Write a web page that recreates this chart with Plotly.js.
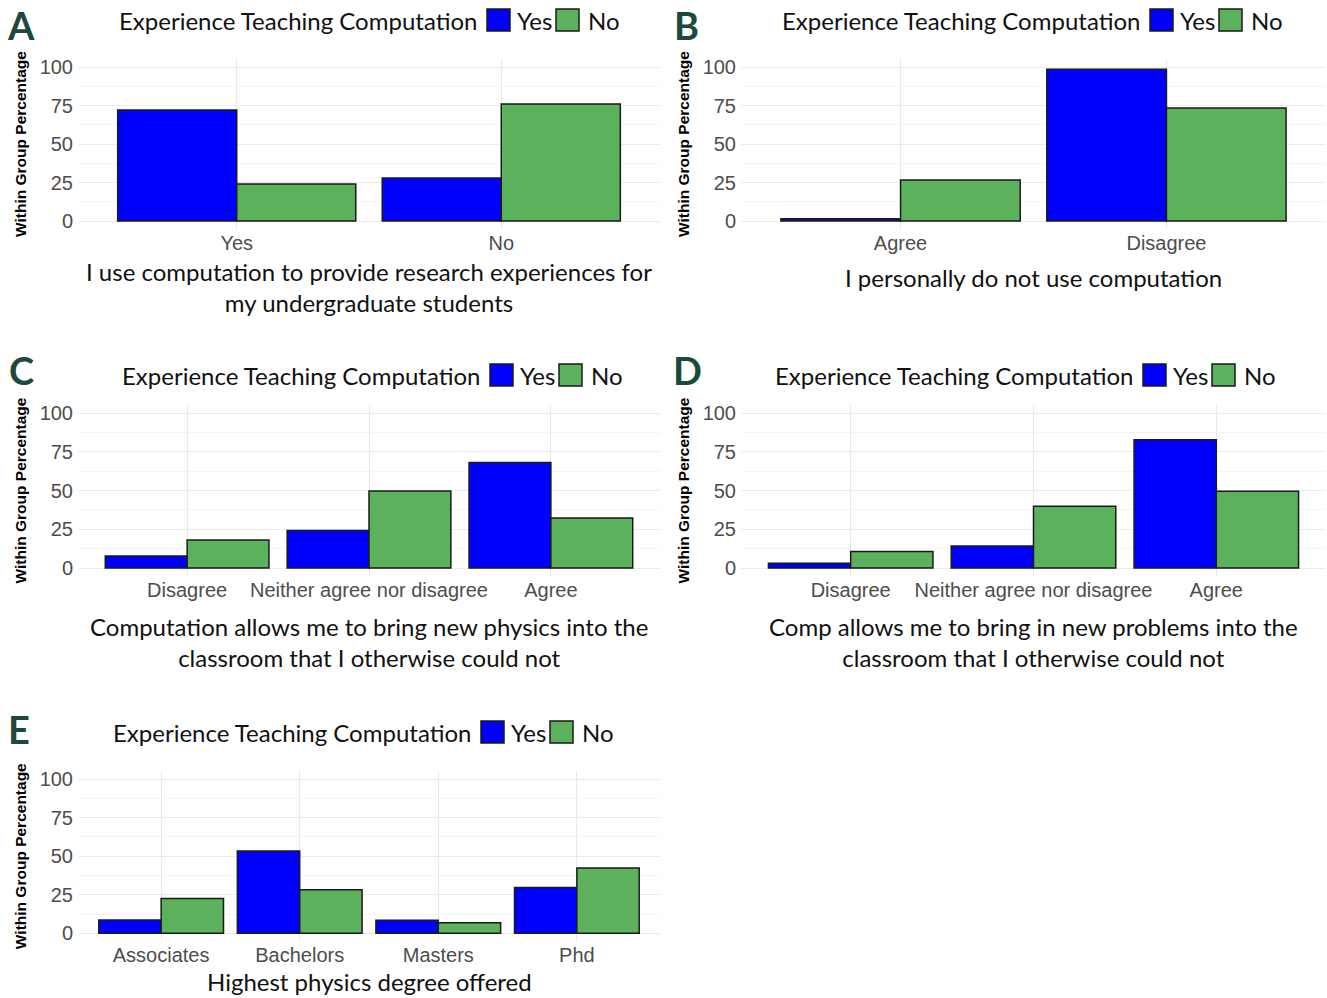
<!DOCTYPE html>
<html>
<head>
<meta charset="utf-8">
<script src="https://cdn.plot.ly/plotly-3.0.1.min.js"></script>
<style>html,body{margin:0;padding:0;background:#fff;}#chart{width:1327px;height:998px;}</style>
</head>
<body>
<div id="chart"></div>
<script>
// ---- Data ----
const legendTitle = 'Experience Teaching Computation';
const groupNames = ['Yes', 'No'];
const yTitle = 'Within Group Percentage';
const yTicks = [0, 25, 50, 75, 100];

const catsA = ['Yes', 'No'];
const yesA = [72, 28];
const noA = [24, 76];
const titleA = 'I use computation to provide research experiences for<br>my undergraduate students';

const catsB = ['Agree', 'Disagree'];
const yesB = [1.5, 98.5];
const noB = [26.6, 73.4];
const titleB = 'I personally do not use computation';

const catsC = ['Disagree', 'Neither agree nor disagree', 'Agree'];
const yesC = [7.7, 24.2, 68.1];
const noC = [18, 49.7, 32.3];
const titleC = 'Computation allows me to bring new physics into the<br>classroom that I otherwise could not';

const catsD = ['Disagree', 'Neither agree nor disagree', 'Agree'];
const yesD = [3, 14.2, 82.8];
const noD = [10.7, 39.8, 49.5];
const titleD = 'Comp allows me to bring in new problems into the<br>classroom that I otherwise could not';

const catsE = ['Associates', 'Bachelors', 'Masters', 'Phd'];
const yesE = [8.6, 53.3, 8.4, 29.7];
const noE = [22.5, 28.3, 6.9, 42.3];
const titleE = 'Highest physics degree offered';

const panelLetters = ['A', 'B', 'C', 'D', 'E'];

// ---- Layout helpers ----
const W = 1327, H = 998;
const px = v => v / W;
const py = v => 1 - v / H;
const BLUE = '#0000ff', GREEN = '#5cb15c';

const panels = [
  {cats: catsA, yes: yesA, no: noA, title: titleA, xd: [78, 660], yd: [228.7, 59.3], titleY: 286.5, legX: 117, legY: 20, letter: [21, 25]},
  {cats: catsB, yes: yesB, no: noB, title: titleB, xd: [741, 1326], yd: [228.7, 59.3], titleY: 278, legX: 780, legY: 20, letter: [686, 25]},
  {cats: catsC, yes: yesC, no: noC, title: titleC, xd: [78, 660], yd: [575.75, 405.25], titleY: 641.5, legX: 120, legY: 375, letter: [21, 370]},
  {cats: catsD, yes: yesD, no: noD, title: titleD, xd: [741, 1326], yd: [575.75, 405.25], titleY: 641.5, legX: 773, legY: 375, letter: [687, 370]},
  {cats: catsE, yes: yesE, no: noE, title: titleE, xd: [78, 660], yd: [941, 771.3], titleY: 981, legX: 111, legY: 732, letter: [19, 729]}
];

const traces = [];
const layout = {
  width: W, height: H,
  margin: {l: 0, r: 0, t: 0, b: 0},
  paper_bgcolor: '#fff', plot_bgcolor: '#fff',
  showlegend: false,
  barmode: 'group', bargap: 0.1, bargroupgap: 0,
  annotations: [], shapes: []
};

const titleFont = {family: 'Lato, "Open Sans", sans-serif', size: 24, color: '#111'};
const tickFont = {family: '"Liberation Sans", Arial, sans-serif', size: 20, color: '#4d4d4d'};

panels.forEach((p, i) => {
  const sfx = i === 0 ? '' : String(i + 1);
  const xa = 'x' + sfx, ya = 'y' + sfx;
  [p.yes, p.no].forEach((vals, k) => {
    traces.push({
      type: 'bar', x: p.cats, y: vals, name: groupNames[k],
      xaxis: xa, yaxis: ya,
      marker: {color: k === 0 ? BLUE : GREEN, line: {color: '#1a1a1a', width: 1.5}},
      hoverinfo: 'x+y+name'
    });
  });
  layout['xaxis' + sfx] = {
    domain: [px(p.xd[0]), px(p.xd[1])], anchor: ya,
    type: 'category', range: [-0.6, p.cats.length - 0.4],
    showgrid: true, gridcolor: '#e9e9e9', gridwidth: 1,
    showline: false, zeroline: false, ticks: '',
    tickfont: tickFont,
    fixedrange: true
  };
  layout['yaxis' + sfx] = {
    domain: [py(p.yd[0]), py(p.yd[1])], anchor: xa,
    range: [-5, 105], tickvals: yTicks,
    showgrid: true, gridcolor: '#ebebeb', gridwidth: 1,
    minor: {tick0: 12.5, dtick: 25, showgrid: true, gridcolor: '#f5f5f5', gridwidth: 1},
    showline: false, zeroline: false, ticks: '',
    ticklabelstandoff: 4,
    tickfont: tickFont,
    fixedrange: true
  };
  const xc = (p.xd[0] + p.xd[1]) / 2;
  const yc = (p.yd[0] + p.yd[1]) / 2;
  // x axis title
  layout.annotations.push({xref: 'paper', yref: 'paper', x: px(xc), y: py(p.titleY),
    xanchor: 'center', yanchor: 'middle', text: p.title, showarrow: false, font: titleFont});
  // y axis title
  layout.annotations.push({xref: 'paper', yref: 'paper', x: px(p.xd[0] - 58), y: py(yc),
    xanchor: 'center', yanchor: 'middle', textangle: -90, text: yTitle, showarrow: false,
    font: {family: '"Liberation Sans", Arial, sans-serif', size: 15.5, color: '#000', weight: 'bold'}});
  // panel letter
  layout.annotations.push({xref: 'paper', yref: 'paper', x: px(p.letter[0]), y: py(p.letter[1]),
    xanchor: 'center', yanchor: 'middle', text: '<b>' + panelLetters[i] + '</b>', showarrow: false,
    font: {family: 'Lato, sans-serif', size: 38, color: '#1b4a3c'}});
  // legend (manual)
  layout.annotations.push({xref: 'paper', yref: 'paper', x: px(p.legX), y: py(p.legY),
    xanchor: 'left', yanchor: 'middle', text: legendTitle, showarrow: false, font: titleFont});
  const b1 = p.legX + 370, b2 = p.legX + 439;
  const boxes = [[b1, BLUE, 31], [b2, GREEN, 33]];
  boxes.forEach(([bx, col, off], k) => {
    layout.shapes.push({type: 'rect', xref: 'paper', yref: 'paper',
      x0: px(bx), x1: px(bx + 23), y0: py(p.legY + 11), y1: py(p.legY - 11),
      fillcolor: col, line: {color: '#1a1a1a', width: 1.5}});
    layout.annotations.push({xref: 'paper', yref: 'paper', x: px(bx + off - 3), y: py(p.legY),
      xanchor: 'left', yanchor: 'middle', text: groupNames[k], showarrow: false, font: titleFont});
  });
});

Plotly.newPlot('chart', traces, layout, {staticPlot: true, displayModeBar: false});
</script>
</body>
</html>
